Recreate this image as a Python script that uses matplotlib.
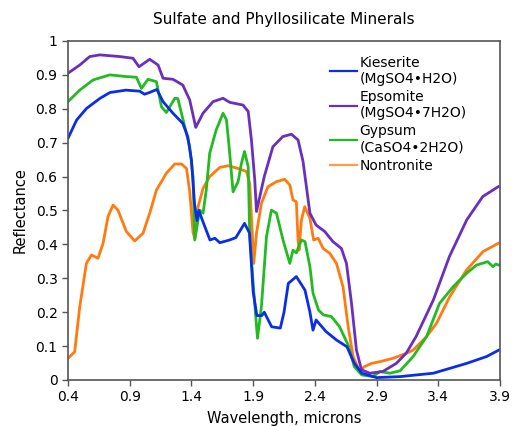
"""Reflectance spectra of sulfate and phyllosilicate minerals."""

import matplotlib
import matplotlib.pyplot as plt
from matplotlib.lines import Line2D

matplotlib.use("Agg")

# Kieserite (MgSO4.H2O)
kieserite_wl = [0.40, 0.47, 0.55, 0.66, 0.74, 0.87, 0.98, 1.02, 1.06, 1.12,
                1.17, 1.25, 1.33, 1.37, 1.40, 1.425, 1.445, 1.46, 1.49, 1.55,
                1.59, 1.63, 1.71, 1.76, 1.83, 1.87, 1.90, 1.93, 1.97, 1.99,
                2.05, 2.12, 2.15, 2.185, 2.25, 2.32, 2.36, 2.385, 2.41, 2.49,
                2.575, 2.66, 2.72, 2.78, 2.90, 3.09, 3.36, 3.63, 3.79, 3.89]
kieserite_r = [0.713, 0.767, 0.801, 0.831, 0.848, 0.855, 0.852, 0.843, 0.848, 0.857,
               0.821, 0.787, 0.757, 0.718, 0.649, 0.52, 0.47, 0.50, 0.47, 0.413,
               0.418, 0.405, 0.413, 0.42, 0.462, 0.434, 0.26, 0.19, 0.19, 0.20,
               0.157, 0.153, 0.20, 0.285, 0.305, 0.265, 0.20, 0.147, 0.177, 0.143,
               0.118, 0.098, 0.049, 0.02, 0.007, 0.01, 0.02, 0.049, 0.069, 0.088]

# Epsomite (MgSO4.7H2O)
epsomite_wl = [0.40, 0.495, 0.576, 0.657, 0.82, 0.927, 0.975, 1.062, 1.13, 1.17,
               1.25, 1.33, 1.386, 1.435, 1.494, 1.575, 1.656, 1.71, 1.818, 1.86,
               1.886, 1.913, 1.927, 1.99, 2.06, 2.14, 2.21, 2.264, 2.304, 2.36,
               2.41, 2.48, 2.547, 2.615, 2.656, 2.697, 2.737, 2.778, 2.845, 2.95,
               3.06, 3.14, 3.22, 3.36, 3.49, 3.63, 3.76, 3.885]
epsomite_r = [0.905, 0.929, 0.954, 0.959, 0.954, 0.949, 0.924, 0.946, 0.929, 0.89,
              0.887, 0.87, 0.826, 0.745, 0.787, 0.821, 0.831, 0.819, 0.811, 0.792,
              0.708, 0.59, 0.497, 0.60, 0.688, 0.718, 0.725, 0.708, 0.645, 0.492,
              0.457, 0.438, 0.408, 0.388, 0.344, 0.226, 0.088, 0.03, 0.02, 0.025,
              0.049, 0.079, 0.128, 0.236, 0.364, 0.472, 0.541, 0.57]

# Gypsum (CaSO4.2H2O)
gypsum_wl = [0.40, 0.495, 0.603, 0.738, 0.873, 0.954, 0.995, 1.048, 1.116, 1.157,
             1.197, 1.265, 1.29, 1.346, 1.386, 1.413, 1.427, 1.467, 1.494, 1.52,
             1.548, 1.60, 1.656, 1.684, 1.71, 1.737, 1.778, 1.805, 1.83, 1.86,
             1.872, 1.90, 1.935, 1.967, 2.008, 2.048, 2.089, 2.142, 2.197, 2.223,
             2.25, 2.29, 2.32, 2.36, 2.385, 2.43, 2.47, 2.535, 2.60, 2.67,
             2.72, 2.78, 2.87, 2.926, 3.007, 3.09, 3.196, 3.305, 3.41, 3.52,
             3.63, 3.71, 3.80, 3.844, 3.866, 3.89]
gypsum_r = [0.821, 0.855, 0.885, 0.90, 0.895, 0.893, 0.86, 0.887, 0.88, 0.806,
            0.789, 0.831, 0.83, 0.747, 0.688, 0.60, 0.413, 0.501, 0.492, 0.56,
            0.669, 0.737, 0.787, 0.767, 0.669, 0.555, 0.585, 0.639, 0.674, 0.629,
            0.433, 0.285, 0.123, 0.216, 0.423, 0.501, 0.492, 0.413, 0.344, 0.383,
            0.375, 0.413, 0.408, 0.334, 0.256, 0.206, 0.192, 0.187, 0.157, 0.103,
            0.039, 0.015, 0.01, 0.025, 0.02, 0.027, 0.069, 0.128, 0.226, 0.275,
            0.315, 0.339, 0.349, 0.334, 0.342, 0.339]

# Nontronite
nontronite_wl = [0.40, 0.454, 0.495, 0.549, 0.59, 0.643, 0.684, 0.724, 0.765, 0.805,
                 0.873, 0.94, 1.008, 1.062, 1.116, 1.157, 1.197, 1.265, 1.32, 1.36,
                 1.386, 1.413, 1.427, 1.454, 1.494, 1.548, 1.63, 1.697, 1.778, 1.846,
                 1.872, 1.886, 1.905, 1.927, 1.967, 2.02, 2.089, 2.156, 2.197, 2.223,
                 2.25, 2.264, 2.272, 2.291, 2.318, 2.36, 2.39, 2.427, 2.467, 2.52,
                 2.575, 2.628, 2.67, 2.71, 2.764, 2.80, 2.859, 2.926, 3.034, 3.142,
                 3.196, 3.305, 3.385, 3.493, 3.628, 3.763, 3.885]
nontronite_r = [0.064, 0.083, 0.216, 0.344, 0.369, 0.359, 0.403, 0.482, 0.516, 0.501,
                0.438, 0.41, 0.433, 0.492, 0.56, 0.585, 0.61, 0.637, 0.637, 0.624,
                0.556, 0.435, 0.418, 0.511, 0.565, 0.60, 0.627, 0.632, 0.624, 0.615,
                0.58, 0.482, 0.344, 0.433, 0.521, 0.57, 0.585, 0.592, 0.575, 0.531,
                0.526, 0.413, 0.383, 0.472, 0.511, 0.477, 0.413, 0.418, 0.388, 0.374,
                0.344, 0.275, 0.157, 0.069, 0.025, 0.039, 0.049, 0.054, 0.064, 0.079,
                0.088, 0.128, 0.167, 0.246, 0.324, 0.379, 0.403]

series_labels = ["Kieserite\n(MgSO4\u2022H2O)", "Epsomite\n(MgSO4\u20227H2O)",
                 "Gypsum\n(CaSO4\u20222H2O)", "Nontronite"]
series_colors = ["#0a2ee6", "#6a2fbd", "#22bb22", "#ff7b10"]
legend_colors = ["#0a2ee6", "#6a2fbd", "#22bb22", "#ffa040"]

x_ticks = [0.4, 0.9, 1.4, 1.9, 2.4, 2.9, 3.4, 3.9]
y_ticks = [0, 0.1, 0.2, 0.3, 0.4, 0.5, 0.6, 0.7, 0.8, 0.9, 1]
y_tick_labels = ["0", "0.1", "0.2", "0.3", "0.4", "0.5", "0.6", "0.7", "0.8", "0.9", "1"]

plt.rcParams["font.family"] = ["DejaVu Sans"]

fig = plt.figure(figsize=(5.16, 4.26), dpi=100)
ax = fig.add_axes([0.1318, 0.108, 0.8372, 0.7958])

data = [
    (kieserite_wl, kieserite_r),
    (epsomite_wl, epsomite_r),
    (gypsum_wl, gypsum_r),
    (nontronite_wl, nontronite_r),
]
# draw nontronite first so the others sit on top, as in the original
for (wl, r), color in zip(data[::-1], series_colors[::-1]):
    ax.plot(wl, r, color=color, linewidth=2.0, solid_joinstyle="round")

ax.set_xlim(0.4, 3.9)
ax.set_ylim(0, 1)
ax.set_xticks(x_ticks)
ax.set_xticklabels([f"{t:.1f}" for t in x_ticks])
ax.set_yticks(y_ticks)
ax.set_yticklabels(y_tick_labels)
ax.tick_params(direction="out", length=4, width=1, colors="#555555",
               labelcolor="black", labelsize=10)
for spine in ax.spines.values():
    spine.set_color("#555555")
    spine.set_linewidth(1.2)

ax.set_title("Sulfate and Phyllosilicate Minerals", fontsize=11, pad=12)
ax.set_xlabel("Wavelength, microns", fontsize=10.5, labelpad=5)
ax.set_ylabel("Reflectance", fontsize=10.5, labelpad=6)

handles = [Line2D([], [], color=c, linewidth=1.6) for c in legend_colors]
ax.legend(handles, series_labels, loc="upper left", bbox_to_anchor=(0.607, 0.957),
          frameon=False, fontsize=10, handlelength=1.9, handletextpad=0.2,
          labelspacing=0.3, borderpad=0, borderaxespad=0)

fig.savefig("out.png", dpi=100)
